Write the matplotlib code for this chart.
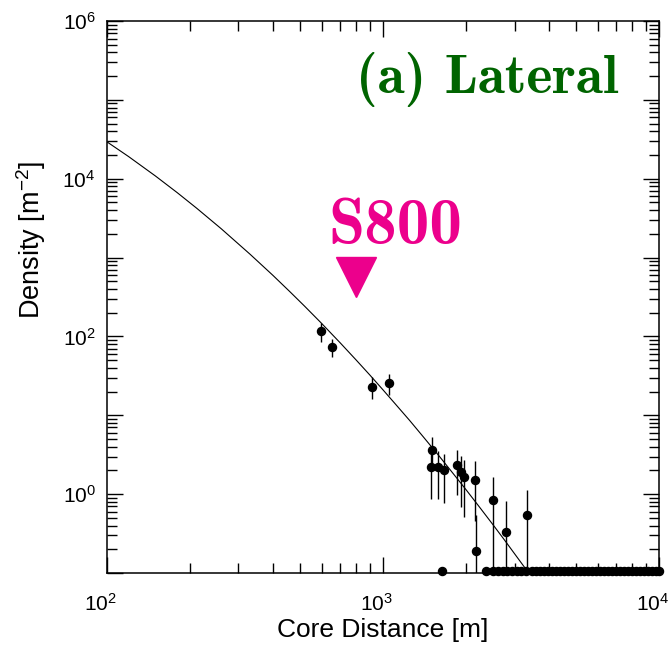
import numpy as np
import matplotlib
matplotlib.use("Agg")
import matplotlib.pyplot as plt
import matplotlib.transforms as mtransforms
from matplotlib.ticker import LogLocator, FuncFormatter, NullFormatter

plt.rcParams['font.family'] = ['Liberation Sans', 'DejaVu Sans']

# detectors with signal: core distance [m], density and error bar ends [m^-2]
r_det = [597, 652, 911, 1055, 1510, 1490, 1580, 1660, 1860, 1920, 1970, 2150, 2180, 2510, 2800, 3315]
dens = [118, 74.5, 23, 26, 3.58, 2.22, 2.18, 2.04, 2.31, 1.91, 1.66, 1.52, 0.192, 0.84, 0.331, 0.537]
dens_hi = [149, 93, 31, 33.6, 5.34, 3.65, 3.5, 3.25, 3.65, 3.07, 2.73, 2.6, 0.548, 1.63, 0.807, 1.14]
dens_lo = [85.5, 55, 16.2, 18.2, 2.4, 0.875, 0.87, 0.778, 0.98, 0.692, 0.517, 0.45, 0.01, 0.01, 0.01, 0.01]

# detectors without signal, drawn on the floor of the plot
r_zero = [1640, 2360, 2510, 2610, 2715, 2820, 2935, 3055, 3175, 3285, 3465, 3585, 3705, 3830,
          3960, 4095, 4235, 4380, 4525, 4680, 4840, 5000, 5170, 5350, 5530, 5715, 5910, 6110,
          6320, 6530, 6750, 6980, 7220, 7465, 7720, 7980, 8250, 8530, 8820, 9120, 9430, 9750, 9990]
floor_level = 0.106

# fitted lateral distribution
r_fit = [100, 120, 150, 180, 212, 260, 330, 400, 461, 520, 597, 700, 800, 900, 1000,
         1100, 1250, 1400, 1600, 1800, 2000, 2250, 2500, 2750, 3000, 3320, 3500]
dens_fit = [29500, 19100, 10850, 6660, 4210, 2316, 1107, 594, 368, 243, 149, 83.2, 50.3, 32.0, 21.1,
            14.4, 8.6, 5.34, 3.03, 1.81, 1.14, 0.669, 0.413, 0.265, 0.175, 0.108, 0.084]

s800_r = 800
s800_mark = 569

magenta = '#ec008c'
green = '#006400'

fig = plt.figure(figsize=(6.7, 6.47), dpi=100)
ax = fig.add_axes([0.1593, 0.1144, 0.8243, 0.8531])

ax.plot(r_fit, dens_fit, color='black', lw=0.8)

dens = np.array(dens)
yerr = [dens - np.array(dens_lo), np.array(dens_hi) - dens]
ax.errorbar(r_det, dens, yerr=yerr, fmt='o', color='black', ms=5.8,
            elinewidth=1.0, capsize=0)
ax.plot(r_zero, [floor_level] * len(r_zero), 'o', color='black', ms=5.8, clip_on=False)

ax.plot([s800_r], [s800_mark], marker='v', color=magenta, ms=29.5, ls='none')

ax.set_xscale('log')
ax.set_yscale('log')
ax.set_xlim(100, 10000)
ax.set_ylim(0.1, 1e6)

ax.set_xticks([100, 1000, 10000])
ax.xaxis.set_minor_locator(LogLocator(base=10, subs=np.arange(2, 10), numticks=10))
ax.yaxis.set_major_locator(LogLocator(base=10, numticks=20))
ax.yaxis.set_minor_locator(LogLocator(base=10, subs=np.arange(2, 10), numticks=20))


def xfmt(v, pos):
    return r'$\mathregular{10^{%d}}$' % round(np.log10(v))


def yfmt(v, pos):
    e = int(round(np.log10(v)))
    if e % 2 != 0:
        return ''
    return r'$\mathregular{10^{%d}}$' % e


ax.xaxis.set_major_formatter(FuncFormatter(xfmt))
ax.yaxis.set_major_formatter(FuncFormatter(yfmt))
ax.xaxis.set_minor_formatter(NullFormatter())
ax.yaxis.set_minor_formatter(NullFormatter())

ax.tick_params(which='both', direction='in', top=True, right=True, width=1.0,
               labelsize=15)
ax.tick_params(which='major', length=11.5)
ax.tick_params(which='minor', length=7.5)
ax.tick_params(axis='x', pad=14)
ax.tick_params(axis='y', pad=8)
for sp in ax.spines.values():
    sp.set_linewidth(1.1)

# x tick labels sit a little left of their ticks
shift = mtransforms.ScaledTranslation(-6 / 100, 0, fig.dpi_scale_trans)
for t in ax.xaxis.get_major_ticks():
    t.label1.set_transform(t.label1.get_transform() + shift)

ax.set_xlabel('Core Distance [m]', fontsize=19, labelpad=3)
ax.set_ylabel(r'Density [m$\mathregular{^{-2}}$]', fontsize=19.5)
ax.yaxis.set_label_coords(-0.106, 0.603)

ax.text(0.6886, 0.8696, '(a) Lateral', transform=ax.transAxes,
        ha='center', va='baseline', color=green, fontsize=40, fontfamily='cmb10')
ax.text(0.523, 0.5978, 'S800', transform=ax.transAxes,
        ha='center', va='baseline', color=magenta, fontsize=47, fontfamily='cmb10')

fig.savefig('out.png', dpi=100)
